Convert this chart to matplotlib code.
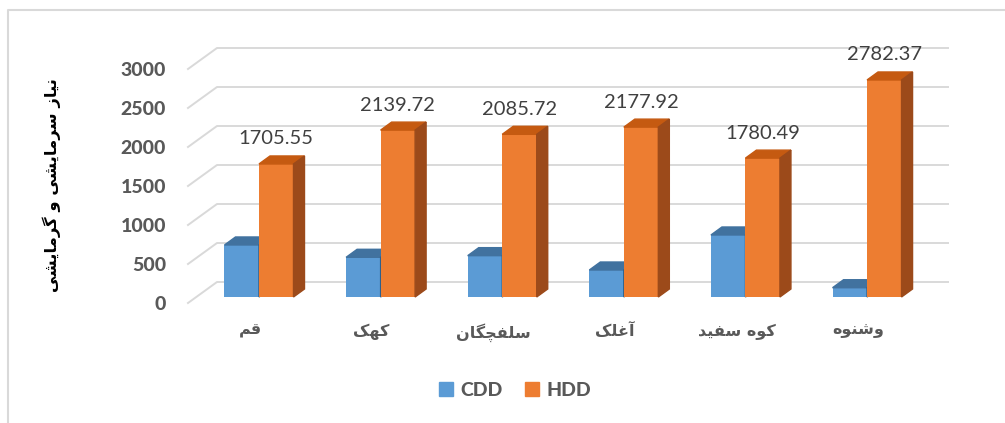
# 3D-style clustered column chart: CDD / HDD per station
import numpy as np
import matplotlib.pyplot as plt
from matplotlib.patches import Polygon, Patch
from matplotlib.lines import Line2D
import matplotlib.transforms as mtrans

# data
stations = ['قم', 'کهک', 'سلفچگان', 'آغلک', 'کوه سفید', 'وشنوه']
cdd = [667, 509, 530, 346, 795, 119]
hdd = [1705.55, 2139.72, 2085.72, 2177.92, 1780.49, 2782.37]
yticks = [0, 500, 1000, 1500, 2000, 2500, 3000]
ylabel = 'نیاز سرمایشی و گرمایشی'
series_names = ['CDD', 'HDD']

# arabic presentation forms (iso, fin[, ini, med])
FORMS = {
    'ا': ('\uFE8D', '\uFE8E'), 'آ': ('\uFE81', '\uFE82'),
    'د': ('\uFEA9', '\uFEAA'), 'ر': ('\uFEAD', '\uFEAE'),
    'ز': ('\uFEAF', '\uFEB0'), 'و': ('\uFEED', '\uFEEE'),
    'س': ('\uFEB1', '\uFEB2', '\uFEB3', '\uFEB4'),
    'ش': ('\uFEB5', '\uFEB6', '\uFEB7', '\uFEB8'),
    'غ': ('\uFECD', '\uFECE', '\uFECF', '\uFED0'),
    'ف': ('\uFED1', '\uFED2', '\uFED3', '\uFED4'),
    'ق': ('\uFED5', '\uFED6', '\uFED7', '\uFED8'),
    'ل': ('\uFEDD', '\uFEDE', '\uFEDF', '\uFEE0'),
    'م': ('\uFEE1', '\uFEE2', '\uFEE3', '\uFEE4'),
    'ن': ('\uFEE5', '\uFEE6', '\uFEE7', '\uFEE8'),
    'ه': ('\uFEE9', '\uFEEA', '\uFEEB', '\uFEEC'),
    'ی': ('\uFBFC', '\uFBFD', '\uFBFE', '\uFBFF'),
    'ک': ('\uFB8E', '\uFB8F', '\uFB90', '\uFB91'),
    'گ': ('\uFB92', '\uFB93', '\uFB94', '\uFB95'),
    'چ': ('\uFB7A', '\uFB7B', '\uFB7C', '\uFB7D'),
}

def shape(text):
    # join letters and reverse to visual order (matplotlib has no bidi)
    text = text.replace('ك', 'ک').replace('ي', 'ی')
    out = []
    for k, ch in enumerate(text):
        f = FORMS.get(ch)
        if f is None:
            out.append(ch)
            continue
        prev = text[k-1] if k > 0 else ''
        nxt = text[k+1] if k + 1 < len(text) else ''
        j_prev = len(FORMS.get(prev, ())) == 4
        j_next = len(f) == 4 and nxt in FORMS
        if j_prev and j_next:
            out.append(f[3])
        elif j_prev:
            out.append(f[1])
        elif j_next:
            out.append(f[2])
        else:
            out.append(f[0])
    return ''.join(out)[::-1]

W, H = 1005, 423
fig = plt.figure(figsize=(W/100, H/100), dpi=100)
# axes = front plane of the bars (pixels 196..927, 297..63)
ax = fig.add_axes([196/W, (H-297)/H, 731/W, 234/H])
ax.set_xlim(-0.518, 5.493)
ax.set_ylim(0, 3000)
for s in ax.spines.values():
    s.set_visible(False)

ppx = 1/121.6          # data x per pixel
ppy = 3000/234         # data y per pixel
x = np.arange(len(stations))
w = 34.5*ppx
ddx, ddy = 11*ppx, 8*ppy

# gridlines on back wall + left wall diagonals
x0, x1 = ax.get_xlim()
for v in yticks:
    ax.plot([x0 - 8*ppx, x0 + 21*ppx, x1 + 21*ppx],
            [v - 6*ppy, v + 15*ppy, v + 15*ppy],
            color='#D9D9D9', lw=1.4, zorder=0, clip_on=False)

def bar3d(xs, hs, front, top, side, z):
    ax.bar(xs, hs, width=w, align='edge', color=front, zorder=z)
    for xl, h in zip(xs, hs):
        ax.add_patch(Polygon([(xl, h), (xl+w, h), (xl+w+ddx, h+ddy), (xl+ddx, h+ddy)],
                             closed=True, color=top, zorder=z, clip_on=False))
        ax.add_patch(Polygon([(xl+w, 0), (xl+w, h), (xl+w+ddx, h+ddy), (xl+w+ddx, ddy)],
                             closed=True, color=side, zorder=z, clip_on=False))

bar3d(x - w, cdd, '#5B9BD5', '#41729F', '#2E5F8A', 2)
bar3d(x, hdd, '#ED7D31', '#C55A11', '#9C4A1A', 3)

# data labels on HDD
for xi, h in zip(x, hdd):
    ax.annotate(f'{h:.2f}', (xi + w/2, h), xytext=(0, 18), textcoords='offset points',
                ha='center', va='center', fontsize=14.5, family='Lato', color='#404040')

# ticks
ax.set_yticks(yticks)
ax.set_yticklabels([str(v) for v in yticks], fontsize=14, family='Lato',
                   fontweight='black', color='#595959')
ax.tick_params(axis='y', length=0, pad=21.5)
down = mtrans.ScaledTranslation(0, -6/100, fig.dpi_scale_trans)
for lab in ax.get_yticklabels():
    lab.set_transform(lab.get_transform() + down)

ax.set_xticks(x)
ax.set_xticklabels([shape(s) for s in stations], fontsize=11.5, family='DejaVu Sans',
                   fontweight='bold', color='#595959')
ax.tick_params(axis='x', length=0, pad=19)
left = mtrans.ScaledTranslation(-9/100, 0, fig.dpi_scale_trans)
for lab in ax.get_xticklabels():
    lab.set_transform(lab.get_transform() + left)

# axis title
fig.text(52/W, 1 - 185/H, shape(ylabel), rotation=90, ha='center', va='center',
         fontsize=11.8, family='DejaVu Sans', fontweight='bold', color='black')

# legend
handles = [Patch(color='#5B9BD5'), Patch(color='#ED7D31')]
fig.legend(handles, series_names, loc='center', bbox_to_anchor=(515/W, 1 - 390/H),
           ncol=2, frameon=False, handlelength=0.75, handleheight=0.75,
           handletextpad=0.4, columnspacing=1.1,
           prop={'family': 'Lato', 'weight': 'black', 'size': 14}, labelcolor='#595959')

# chart frame (left and top edge)
fig.add_artist(Line2D([7.5/W, 7.5/W, 1], [0, 1 - 10/H, 1 - 10/H],
                      transform=fig.transFigure, color='#D9D9D9', lw=1.5))

fig.savefig('out.png', dpi=100)
